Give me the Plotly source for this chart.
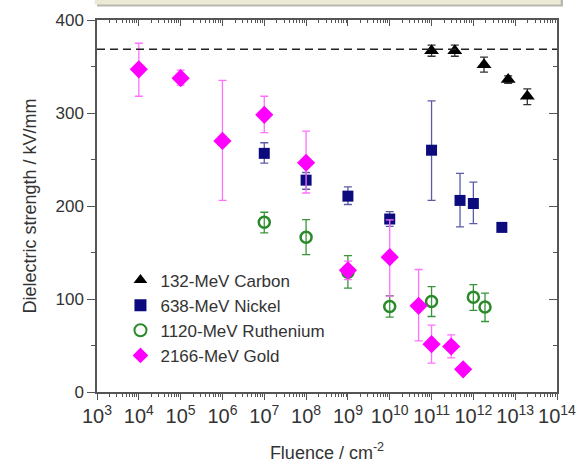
import plotly.graph_objects as go

# ---- data ----
carbon_x = [1e11, 3.6e11, 1.8e12, 6.8e12, 1.95e13]
carbon_y = [367, 367, 352, 336, 318]
carbon_ep = [6, 6, 8, 4, 8]
carbon_em = [6, 6, 8, 4, 9]

nickel_x = [1e7, 1e8, 1e9, 1e10, 1e11, 4.8e11, 1e12, 4.8e12]
nickel_y = [256.6, 227.8, 210.6, 186, 260, 206, 202.7, 177]
nickel_ep = [11.4, 8.2, 10, 8, 53, 29, 23, 0]
nickel_em = [10.6, 9.8, 9, 8, 54, 28.5, 21.7, 0]

ruth_x = [1e7, 1e8, 1e9, 1e10, 1e11, 1e12, 1.9e12]
ruth_y = [182.5, 166.4, 128.7, 92, 97.4, 102, 91.3]
ruth_ep = [10.8, 19, 18, 11.5, 16, 13.4, 15]
ruth_em = [11.5, 18.7, 17, 11.5, 16.2, 14.3, 15.5]

gold_x = [1e4, 1e5, 1e6, 1e7, 1e8, 1e9, 1e10, 4.9e10, 1e11, 2.95e11, 5.7e11]
gold_y = [347, 337.5, 270, 298, 246.5, 130.8, 145, 92.7, 51.4, 48.9, 24.4]
gold_ep = [28, 8.5, 65, 20, 34, 10, 40, 39, 20.6, 12.6, 0]
gold_em = [29, 7.5, 64, 19, 32.5, 10, 42, 37.7, 20.4, 12.3, 0]

reference_strength = 368.5

series_names = ["132-MeV Carbon", "638-MeV Nickel", "1120-MeV Ruthenium", "2166-MeV Gold"]

x_title = "Fluence / cm<sup>-2</sup>"
y_title = "Dielectric strength / kV/mm"

FONT = "Liberation Sans, Arial, sans-serif"
AX = "#555555"
TXT = "#333333"

fig = go.Figure()


def add(name, x, y, ep, em, symbol, color, size, ecolor, line_w=0):
    fig.add_trace(go.Scatter(
        x=x, y=y, mode="markers", name=name,
        marker=dict(symbol=symbol, color=color, size=size,
                    line=dict(width=line_w, color=color)),
        error_y=dict(type="data", symmetric=False, array=ep, arrayminus=em,
                     color=ecolor, thickness=1.3, width=4),
    ))


add(series_names[0], carbon_x, carbon_y, carbon_ep, carbon_em,
    "triangle-up", "#000000", 13, "#333333")
add(series_names[1], nickel_x, nickel_y, nickel_ep, nickel_em,
    "square", "#0b0b7e", 11, "#5c5ca6")
add(series_names[2], ruth_x, ruth_y, ruth_ep, ruth_em,
    "circle-open", "#2a8a2a", 11, "#3a943a", line_w=2.5)
add(series_names[3], gold_x, gold_y, gold_ep, gold_em,
    "diamond", "#ff00ff", 14, "#ff70ff")

# invisible trace for the mirrored (top/right) axes
fig.add_trace(go.Scatter(x=[], y=[], xaxis="x2", yaxis="y2", showlegend=False,
                         hoverinfo="skip"))

common_x = dict(type="log", range=[3, 14], dtick=1, showgrid=False, zeroline=False,
                linecolor=AX, linewidth=1.5, tickcolor=AX, tickwidth=1.2,
                automargin=False)
common_y = dict(range=[0, 400], dtick=100, showgrid=False, zeroline=False,
                linecolor=AX, linewidth=1.5, tickcolor=AX, tickwidth=1.2,
                automargin=False)

fig.update_layout(
    width=583, height=463,
    margin=dict(l=97, r=26, t=20, b=71, pad=0),
    plot_bgcolor="white", paper_bgcolor="white",
    font=dict(family=FONT, color=TXT, size=17),
    showlegend=True,
    legend=dict(x=0.051, y=0.348, xanchor="left", yanchor="top",
                bgcolor="rgba(0,0,0,0)", font=dict(size=17, color=TXT),
                itemsizing="constant", tracegroupgap=0),
    xaxis=dict(**common_x, showline=True, ticks="outside", ticklen=6,
               tickangle=0, exponentformat="power",
               tickfont=dict(size=16, color=TXT),
               minor=dict(ticks="outside", ticklen=3, dtick="D1", tickcolor=AX),
               title=dict(text=x_title, font=dict(size=18, color=TXT), standoff=20)),
    yaxis=dict(**common_y, showline=True, ticks="outside", ticklen=8,
               tickfont=dict(size=17, color=TXT),
               minor=dict(ticks="outside", ticklen=4, dtick=50, tickcolor=AX),
               title=dict(text=y_title, font=dict(size=18, color=TXT), standoff=14)),
    xaxis2=dict(**common_x, overlaying="x", side="top", anchor="y", showline=True,
                ticks="inside", ticklen=6, showticklabels=False,
                minor=dict(ticks="inside", ticklen=3, dtick="D1", tickcolor=AX)),
    yaxis2=dict(**common_y, overlaying="y", side="right", anchor="x", showline=True,
                ticks="inside", ticklen=8, showticklabels=False,
                minor=dict(ticks="inside", ticklen=4, dtick=50, tickcolor=AX)),
)

# dashed reference level
fig.add_shape(type="line", xref="paper", yref="y", x0=0, x1=1,
              y0=reference_strength, y1=reference_strength,
              line=dict(color="#222222", width=1.5, dash="8px,5px"))

# cropped banner box at the top of the picture (shadow + box)
fig.add_shape(type="rect", xref="paper", yref="paper",
              x0=-0.0, x1=1.013, y0=1.036, y1=1.06,
              fillcolor="#b8b8b0", line=dict(width=0), layer="above")
fig.add_shape(type="rect", xref="paper", yref="paper",
              x0=-0.005, x1=1.008, y0=1.042, y1=1.07,
              fillcolor="#ece9d6", line=dict(width=0), layer="above")

fig.write_html("out.html")
